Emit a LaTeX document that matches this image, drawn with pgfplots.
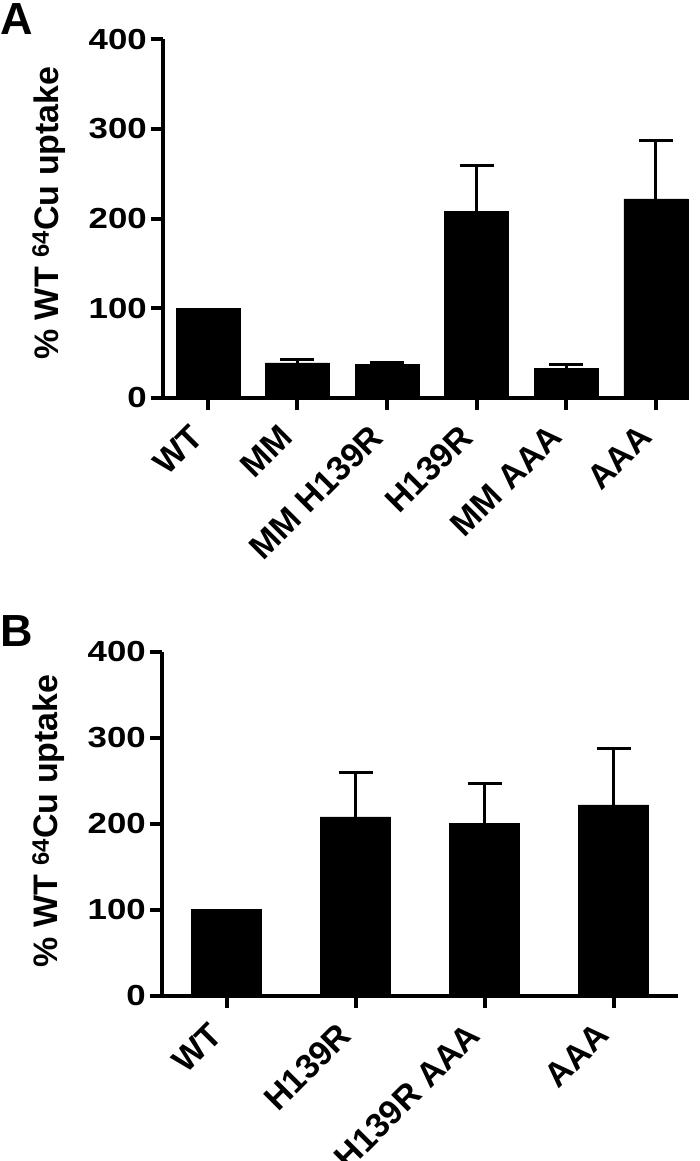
\documentclass[border=0pt]{standalone}
\usepackage{fontspec}
\setmainfont{Liberation Sans}
\usepackage{pgfplots}
\pgfplotsset{compat=1.18}

\pgfplotstableread{
x y e
1 39 4
2 37 2.5
3 208 51
4 33 4
5 222 65
}\dataA

\pgfplotstableread{
x y e
1 208 51
2 200 47
3 222 65
}\dataB

\pgfplotsset{
  barax/.style={
    scale only axis,
    axis lines*=left,
    axis line style={line width=4pt, black},
    ymin=0, ymax=400,
    ytick={0,100,200,300,400},
    tick align=outside,
    major tick length=12pt,
    every tick/.style={line width=4pt, black},
    ybar, bar shift=0pt,
    clip=false,
    /pgf/number format/assume math mode=true,
    yticklabel style={font=\fontsize{29}{29}\selectfont\bfseries, anchor=east, inner sep=0pt, xscale=1.2},
    yticklabel shift=4pt,
    xticklabel style={font=\fontsize{34}{34}\selectfont\bfseries, xshift=-19pt, anchor=north east, inner sep=0pt, rotate=45},
    xticklabel shift=13pt,
  },
  errb/.style={fill=black, draw=black,
    error bars/.cd, y dir=plus, y explicit,
    error bar style={line width=3pt, black},
    error mark options={rotate=90, line width=3pt, mark size=17pt, black}},
}

\begin{document}
\begin{tikzpicture}
\path[use as bounding box] (0pt,0pt) rectangle (700pt,1161pt);

\node[anchor=north west, inner sep=0pt, font=\fontsize{45}{45}\selectfont\bfseries] at (0pt,1158pt) {A};
\node[anchor=north west, inner sep=0pt, font=\fontsize{45}{45}\selectfont\bfseries] at (0pt,546pt) {B};

% Panel A
\begin{axis}[barax,
  at={(163pt,763.3pt)}, anchor=south west,
  width=526pt, height=358.2pt,
  xmin=-0.5, xmax=5.37,
  xtick={0,1,2,3,4,5},
  xticklabels={WT, MM, MM H139R, H139R, MM AAA, AAA},
  ylabel={\% WT \textsuperscript{64}Cu uptake},
  every axis y label/.style={at={(axis description cs:-0.1996,0.5156)}, rotate=90, anchor=base, font=\fontsize{34}{34}\selectfont\bfseries},
]
\addplot[fill=black, draw=black, bar width=0.714] coordinates {(0,100)};
\addplot[bar width=0.714, errb] table[x=x, y=y, y error=e] {\dataA};
\end{axis}

% Panel B
\begin{axis}[barax,
  at={(162pt,165.3pt)}, anchor=south west,
  width=516pt, height=344pt,
  xmin=-0.5, xmax=3.5,
  xtick={0,1,2,3},
  xticklabels={WT, H139R, H139R AAA, AAA},
  ylabel={\% WT \textsuperscript{64}Cu uptake},
  every axis y label/.style={at={(axis description cs:-0.2016,0.508)}, rotate=90, anchor=base, font=\fontsize{34}{34}\selectfont\bfseries},
]
\addplot[fill=black, draw=black, bar width=0.544] coordinates {(0,100)};
\addplot[bar width=0.544, errb] table[x=x, y=y, y error=e] {\dataB};
\end{axis}
\end{tikzpicture}
\end{document}
